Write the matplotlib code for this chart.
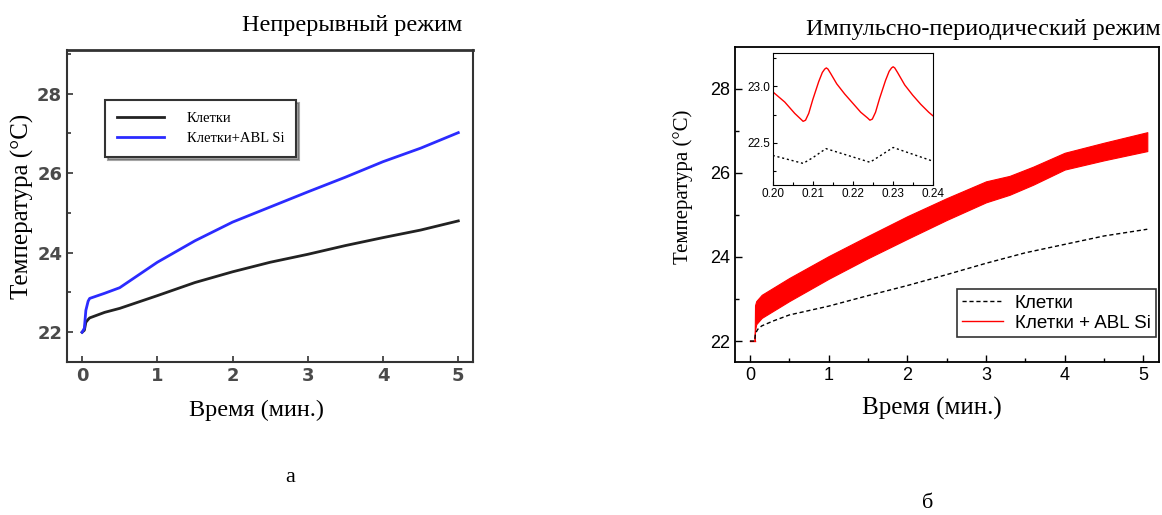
import matplotlib.pyplot as plt
import numpy as np

SERIF = 'Liberation Serif'
SANS = 'Liberation Sans'

# ---- panel a: continuous mode ----
t_a = [0.0, 0.03, 0.05, 0.08, 0.1, 0.3, 0.5, 1.0, 1.5, 2.0, 2.5, 3.0, 3.5, 4.0, 4.5, 5.0]
cells_a = [22.0, 22.05, 22.25, 22.32, 22.36, 22.5, 22.6, 22.92, 23.25, 23.52, 23.76, 23.96, 24.18, 24.38, 24.57, 24.8]
abl_a = [22.0, 22.1, 22.55, 22.78, 22.85, 22.98, 23.12, 23.76, 24.3, 24.77, 25.15, 25.53, 25.9, 26.29, 26.63, 27.02]

# ---- panel b: pulse-periodic mode ----
t_b_cells = [0.0, 0.06, 0.07, 0.1, 0.15, 0.3, 0.5, 1.0, 1.5, 2.0, 2.5, 3.0, 3.5, 4.0, 4.5, 5.05]
cells_b = [22.0, 22.0, 22.18, 22.28, 22.36, 22.48, 22.62, 22.83, 23.08, 23.32, 23.58, 23.85, 24.1, 24.3, 24.5, 24.66]
t_b_band = [0.06, 0.065, 0.08, 0.15, 0.5, 1.0, 1.5, 2.0, 2.5, 3.0, 3.3, 3.6, 4.0, 4.5, 5.05]
abl_b_upper = [22.0, 22.85, 22.95, 23.1, 23.5, 24.02, 24.5, 24.97, 25.4, 25.8, 25.93, 26.15, 26.48, 26.72, 26.97]
abl_b_lower = [22.0, 22.25, 22.4, 22.55, 22.95, 23.48, 23.97, 24.43, 24.88, 25.3, 25.48, 25.72, 26.08, 26.3, 26.52]

# ---- inset: zoom on 0.20 - 0.24 min ----
t_in = [0.200, 0.203, 0.2055, 0.207, 0.2076, 0.2082, 0.209, 0.210, 0.2115, 0.2124, 0.2130, 0.2134, 0.2138,
        0.2145, 0.216, 0.218, 0.220, 0.222, 0.2237, 0.2243, 0.2249, 0.2257, 0.2267, 0.2282, 0.2291,
        0.2297, 0.2301, 0.2305, 0.2312, 0.233, 0.235, 0.237, 0.239, 0.240]
abl_in = [22.95, 22.86, 22.76, 22.71, 22.69, 22.70, 22.76, 22.88, 23.04, 23.12, 23.15, 23.16, 23.15,
          23.11, 23.02, 22.93, 22.85, 22.77, 22.72, 22.70, 22.71, 22.77, 22.89, 23.05, 23.13,
          23.16, 23.17, 23.16, 23.12, 23.01, 22.92, 22.84, 22.77, 22.74]
t_in_cells = [0.200, 0.2076, 0.210, 0.2133, 0.2243, 0.227, 0.2301, 0.240]
cells_in = [22.39, 22.32, 22.37, 22.45, 22.33, 22.39, 22.46, 22.34]

fig = plt.figure(figsize=(11.62, 5.15), dpi=100)

# ---------- panel a ----------
ax1 = fig.add_axes([0.0577, 0.297, 0.349, 0.606])
ax1.plot(t_a, cells_a, color='#222222', lw=2, label='Клетки')
ax1.plot(t_a, abl_a, color='#2b2bff', lw=2, label='Клетки+ABL Si')
ax1.set_xlim(-0.2, 5.19)
ax1.set_ylim(21.25, 29.1)
ax1.set_xticks([0, 1, 2, 3, 4, 5])
ax1.set_yticks([22, 24, 26, 28])
ax1.set_yticks([23, 25, 27, 29], minor=True)
ax1.tick_params(direction='in', length=4, width=1.2, colors='#333333')
ax1.tick_params(which='minor', direction='in', length=3, width=1.2, colors='#333333')
for lab in ax1.get_xticklabels() + ax1.get_yticklabels():
    lab.set_fontsize(13)
    lab.set_fontweight('bold')
    lab.set_color('#4a4a4a')
for sp in ax1.spines.values():
    sp.set_color('#333333')
    sp.set_linewidth(1.5)
ax1.spines['top'].set_linewidth(2)
ax1.set_xlabel('Время (мин.)', family=SERIF, fontsize=17.5)
ax1.xaxis.set_label_coords(0.468, -0.12)
ax1.set_ylabel('Температура (°C)', family=SERIF, fontsize=18, labelpad=2)
leg1 = ax1.legend(loc='upper left', bbox_to_anchor=(0.094, 0.84), borderaxespad=0,
                  prop={'family': SERIF, 'size': 10.5}, handlelength=3.2, handletextpad=1.6,
                  fancybox=False, shadow=True, edgecolor='#333333', borderpad=0.8,
                  labelspacing=0.5)
leg1.get_frame().set_linewidth(1.5)
fig.text(0.398, 0.95, 'Непрерывный режим', family=SERIF, fontsize=17.5, ha='right', va='center')
fig.text(0.2495, 0.072, 'а', family=SERIF, fontsize=16, ha='center', va='center')

# ---------- panel b ----------
ax2 = fig.add_axes([0.6325, 0.297, 0.365, 0.612])
ax2.fill_between(t_b_band, abl_b_lower, abl_b_upper, color='red', lw=0.8, edgecolor='red')
ax2.plot([0, 0.06], [22.0, 22.0], color='red', lw=1)
ax2.plot(t_b_cells, cells_b, color='black', lw=1, ls=(0, (3, 2)), label='Клетки')
ax2.plot([], [], color='red', lw=1, label='Клетки + ABL Si')
ax2.set_xlim(-0.19, 5.2)
ax2.set_ylim(21.5, 29.0)
ax2.set_xticks([0, 1, 2, 3, 4, 5])
ax2.set_xticks([0.5, 1.5, 2.5, 3.5, 4.5], minor=True)
ax2.set_yticks([22, 24, 26, 28])
ax2.set_yticks([23, 25, 27], minor=True)
ax2.tick_params(direction='in', length=5, width=1, labelsize=13)
ax2.tick_params(which='minor', direction='in', length=3, width=1)
for lab in ax2.get_xticklabels() + ax2.get_yticklabels():
    lab.set_family(SANS)
for sp in ax2.spines.values():
    sp.set_linewidth(1.3)
ax2.set_xlabel('Время (мин.)', family=SERIF, fontsize=18)
ax2.xaxis.set_label_coords(0.465, -0.112)
ax2.set_ylabel('Температура (°C)', family=SERIF, fontsize=15)
ax2.yaxis.set_label_coords(-0.098, 0.556)
leg2 = ax2.legend(loc='lower right', bbox_to_anchor=(0.993, 0.079), borderaxespad=0,
                  prop={'family': SANS, 'size': 13.5}, handlelength=2.2, handletextpad=0.6,
                  fancybox=False, edgecolor='black', borderpad=0.3, labelspacing=0.15)
leg2.get_frame().set_linewidth(1.2)
fig.text(0.9985, 0.943, 'Импульсно-периодический режим', family=SERIF, fontsize=17.5,
         ha='right', va='center')
fig.text(0.798, 0.023, 'б', family=SERIF, fontsize=16, ha='center', va='center')

# ---------- inset ----------
ax3 = fig.add_axes([0.665, 0.6408, 0.1377, 0.256])
ax3.plot(t_in, abl_in, color='red', lw=1)
ax3.plot(t_in_cells, cells_in, color='black', lw=1, ls=(0, (1.5, 2)))
ax3.set_xlim(0.20, 0.24)
ax3.set_ylim(22.13, 23.29)
ax3.set_xticks([0.20, 0.21, 0.22, 0.23, 0.24])
ax3.set_xticks([0.205, 0.215, 0.225, 0.235], minor=True)
ax3.set_yticks([22.5, 23.0])
ax3.set_yticks([22.25, 22.75, 23.25], minor=True)
ax3.set_xticklabels(['0.20', '0.21', '0.22', '0.23', '0.24'])
ax3.set_yticklabels(['22.5', '23.0'])
ax3.tick_params(direction='in', length=3, width=0.8, labelsize=8.5, pad=2)
ax3.tick_params(which='minor', direction='in', length=2, width=0.8)
for lab in ax3.get_xticklabels() + ax3.get_yticklabels():
    lab.set_family(SANS)

fig.savefig('out.png', dpi=100)
